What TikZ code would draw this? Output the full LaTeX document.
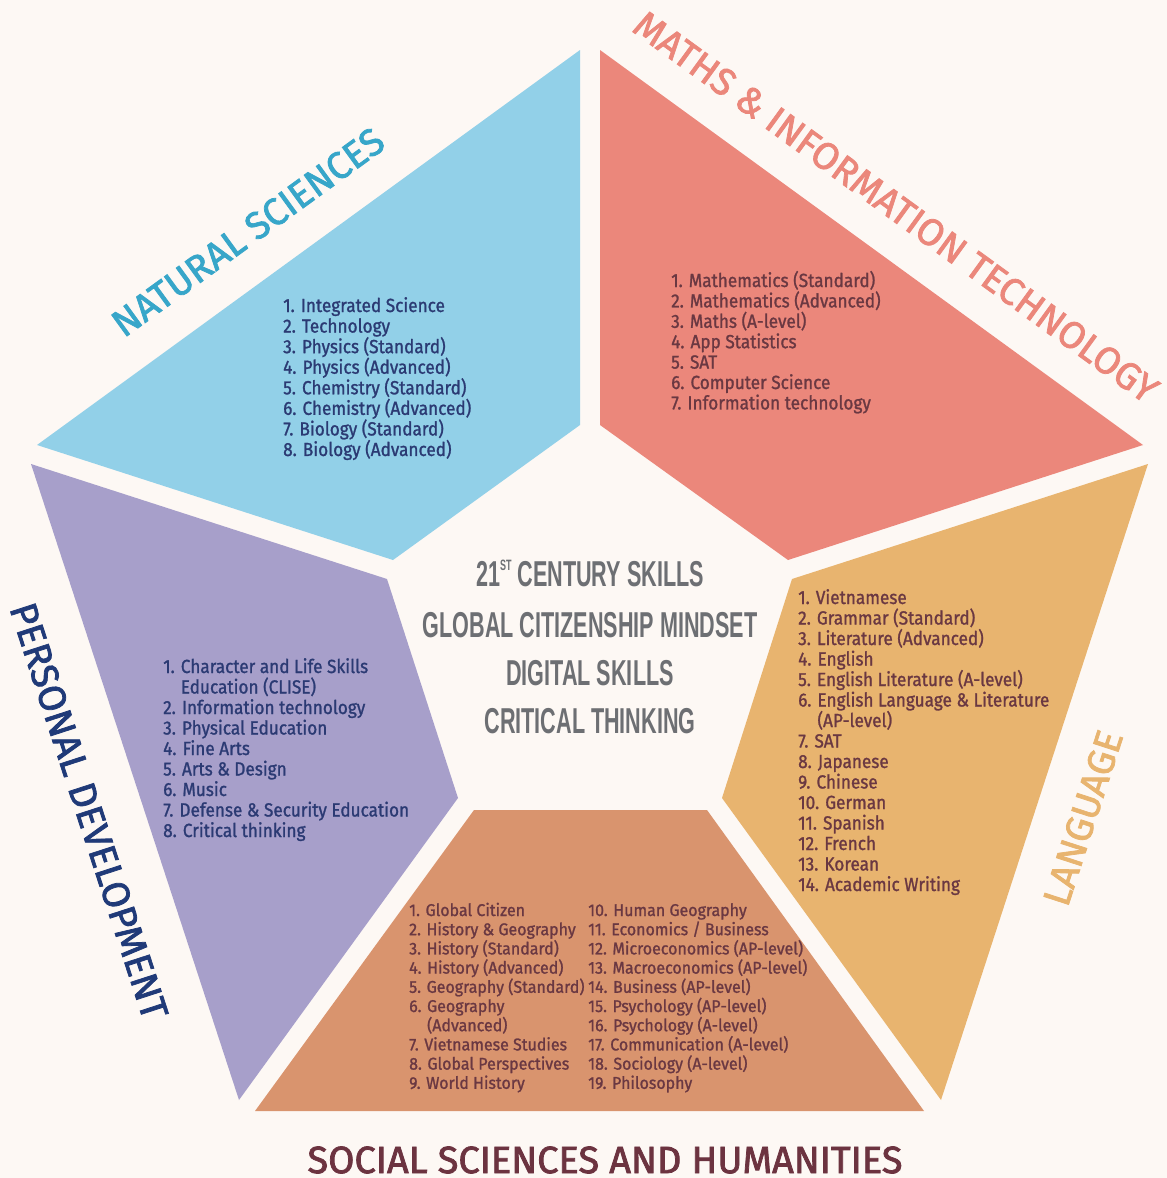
\documentclass[tikz,border=0pt]{standalone}
\usepackage{fontspec}
\setmainfont{Fira Sans}
\newfontfamily\listfont[FakeStretch=0.905,FakeBold=1.2]{Fira Sans}
\newfontfamily\soclistfont[FakeStretch=0.94,FakeBold=1.2]{Fira Sans}
\newfontfamily\titlefont[FakeBold=2]{Fira Sans}
\newfontfamily\centerfont[FakeStretch=0.6]{Liberation Sans}
\definecolor{bg}{HTML}{FDF8F4}
\definecolor{nsfill}{HTML}{92D0E8}
\definecolor{mtfill}{HTML}{EB877B}
\definecolor{lgfill}{HTML}{E8B46F}
\definecolor{ssfill}{HTML}{D9946E}
\definecolor{pdfill}{HTML}{A79FCA}
\definecolor{navytxt}{HTML}{2B3A73}
\definecolor{maroontxt}{HTML}{6A3842}
\definecolor{nstitle}{HTML}{37A6C9}
\definecolor{mttitle}{HTML}{EB877B}
\definecolor{lgtitle}{HTML}{E8B46F}
\definecolor{pdtitle}{HTML}{203A78}
\definecolor{sstitle}{HTML}{6C3340}
\definecolor{centergray}{HTML}{6D6F73}
\newcommand\lst[2]{\vtop{\baselineskip=#1\lineskiplimit=-1000pt\lineskip=0pt\halign{##\hfil\cr#2\crcr}}}
\begin{document}
\begin{tikzpicture}[x=1pt,y=-1pt,
  listnode/.style={inner sep=0pt, anchor=base west, font=\listfont\fontsize{19}{20.5}\selectfont},
  socnode/.style={inner sep=0pt, anchor=base west, font=\soclistfont\fontsize{17}{19.2}\selectfont, text=maroontxt},
  titletxt/.style={inner sep=0pt, anchor=center, font=\titlefont\fontsize{38}{40}\selectfont},
  centertxt/.style={inner sep=0pt, anchor=base, font=\centerfont\bfseries\fontsize{36}{40}\selectfont, text=centergray}]
\path[use as bounding box, fill=bg] (0,0) rectangle (1167,1178);
% sectors
\fill[nsfill] (580,50) -- (580,425) -- (393,560) -- (37,445) -- cycle;
\fill[mtfill] (600,50) -- (1143,445) -- (788,560) -- (600,425) -- cycle;
\fill[lgfill] (1148,464) -- (941,1100) -- (722,798) -- (792,579) -- cycle;
\fill[ssfill] (474,810) -- (707,810) -- (924,1111) -- (255,1111) -- cycle;
\fill[pdfill] (31,464) -- (387,579) -- (458,798) -- (239,1100) -- cycle;
% titles
\node[titletxt, text=nstitle, rotate=36] (nstitle) at (248,232) {NATURAL SCIENCES};
\node[titletxt, text=mttitle, rotate=-36] (mttitle) at (896,207) {MATHS \& INFORMATION TECHNOLOGY};
\node[titletxt, text=lgtitle, rotate=72] (lgtitle) at (1083,818) {LANGUAGE};
\node[titletxt, text=pdtitle, rotate=-72] (pdtitle) at (89,811) {PERSONAL DEVELOPMENT};
\node[titletxt, text=sstitle] (sstitle) at (605,1160) {SOCIAL SCIENCES AND HUMANITIES};
% center
\node[centertxt] (c1) at (590,586) {21\raisebox{15.5pt}{\fontsize{15}{15}\selectfont ST} CENTURY SKILLS};
\node[centertxt] (c2) at (590,637) {GLOBAL CITIZENSHIP MINDSET};
\node[centertxt] (c3) at (590,685) {DIGITAL SKILLS};
\node[centertxt] (c4) at (590,733) {CRITICAL THINKING};
% lists
\node[listnode, text=navytxt] (nslist) at (283,312) {\lst{20.57pt}{1. Integrated Science\cr
2. Technology\cr
3. Physics (Standard)\cr
4. Physics (Advanced)\cr
5. Chemistry (Standard)\cr
6. Chemistry (Advanced)\cr
7. Biology (Standard)\cr
8. Biology (Advanced)\cr}};
\node[listnode, text=maroontxt] (mtlist) at (671,287) {\lst{20.4pt}{1. Mathematics (Standard)\cr
2. Mathematics (Advanced)\cr
3. Maths (A-level)\cr
4. App Statistics\cr
5. SAT\cr
6. Computer Science\cr
7. Information technology\cr}};
\node[listnode, text=maroontxt] (lglist) at (798,604) {\lst{20.5pt}{1. Vietnamese\cr
2. Grammar (Standard)\cr
3. Literature (Advanced)\cr
4. English\cr
5. English Literature (A-level)\cr
6. English Language \& Literature\cr
\phantom{6. }(AP-level)\cr
7. SAT\cr
8. Japanese\cr
9. Chinese\cr
10. German\cr
11. Spanish\cr
12. French\cr
13. Korean\cr
14. Academic Writing\cr}};
\node[listnode, text=navytxt] (pdlist) at (163,673) {\lst{20.5pt}{1. Character and Life Skills\cr
\phantom{1. }Education (CLISE)\cr
2. Information technology\cr
3. Physical Education\cr
4. Fine Arts\cr
5. Arts \& Design\cr
6. Music\cr
7. Defense \& Security Education\cr
8. Critical thinking\cr}};
\node[socnode] (sslistA) at (409,916) {\lst{19.2pt}{1. Global Citizen\cr
2. History \& Geography\cr
3. History (Standard)\cr
4. History (Advanced)\cr
5. Geography (Standard)\cr
6. Geography\cr
\phantom{6. }(Advanced)\cr
7. Vietnamese Studies\cr
8. Global Perspectives\cr
9. World History\cr}};
\node[socnode] (sslistB) at (588,916) {\lst{19.2pt}{10. Human Geography\cr
11. Economics / Business\cr
12. Microeconomics (AP-level)\cr
13. Macroeconomics (AP-level)\cr
14. Business (AP-level)\cr
15. Psychology (AP-level)\cr
16. Psychology (A-level)\cr
17. Communication (A-level)\cr
18. Sociology (A-level)\cr
19. Philosophy\cr}};
\end{tikzpicture}
\end{document}
